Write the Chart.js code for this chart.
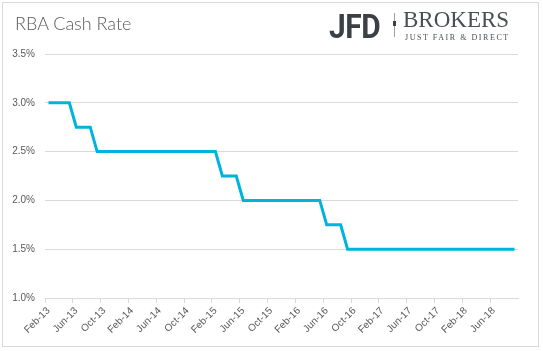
<!DOCTYPE html>
<html>
<head>
<meta charset="utf-8">
<script src="https://cdn.jsdelivr.net/npm/chart.js@4.4.1/dist/chart.umd.min.js"></script>
<style>
  html, body { margin: 0; padding: 0; background: #fff; }
  #wrap { position: relative; width: 543px; height: 351px; overflow: hidden; }
  #frame { position: absolute; left: 2px; top: 2px; width: 537px; height: 345px; border: 1px solid #d9d9d9; box-sizing: border-box; }
  #chart { position: absolute; left: 0; top: 0; }
  #title { position: absolute; left: 15px; top: 12px; font: 300 18px Lato, "Open Sans", sans-serif; color: #595959; }
  .jfd { position: absolute; left: 329px; top: 6px; font: bold 34px Roboto, sans-serif; color: #3b4047; transform: scaleX(0.88); transform-origin: left top; letter-spacing: -0.5px; }
  .sep { position: absolute; left: 394px; top: 13px; width: 1px; height: 24px; background: #9aa0a6; }
  .sep-dot { position: absolute; left: 393px; top: 21px; width: 3px; height: 5px; background: #3b4047; }
  .brokers { position: absolute; left: 403px; top: 7px; font: 23px "Liberation Serif", serif; color: #4a4f56; }
  .tag { position: absolute; left: 405px; top: 33px; font: 8px "Liberation Serif", serif; color: #4a4f56; letter-spacing: 1.55px; white-space: nowrap; }
</style>
</head>
<body>
<div id="wrap">
  <canvas id="chart" width="543" height="351"></canvas>
  <div id="frame"></div>
  <div id="title">RBA Cash Rate</div>
  <div class="jfd">JFD</div>
  <div class="sep"></div>
  <div class="sep-dot"></div>
  <div class="brokers">BROKERS</div>
  <div class="tag">JUST FAIR &amp; DIRECT</div>
</div>
<script>
// monthly, Feb-13 .. Sep-18
const months = [
    'Feb-13', 'Mar-13', 'Apr-13', 'May-13', 'Jun-13', 'Jul-13', 'Aug-13', 'Sep-13', 'Oct-13', 'Nov-13', 'Dec-13',
    'Jan-14', 'Feb-14', 'Mar-14', 'Apr-14', 'May-14', 'Jun-14', 'Jul-14', 'Aug-14', 'Sep-14', 'Oct-14', 'Nov-14', 'Dec-14',
    'Jan-15', 'Feb-15', 'Mar-15', 'Apr-15', 'May-15', 'Jun-15', 'Jul-15', 'Aug-15', 'Sep-15', 'Oct-15', 'Nov-15', 'Dec-15',
    'Jan-16', 'Feb-16', 'Mar-16', 'Apr-16', 'May-16', 'Jun-16', 'Jul-16', 'Aug-16', 'Sep-16', 'Oct-16', 'Nov-16', 'Dec-16',
    'Jan-17', 'Feb-17', 'Mar-17', 'Apr-17', 'May-17', 'Jun-17', 'Jul-17', 'Aug-17', 'Sep-17', 'Oct-17', 'Nov-17', 'Dec-17',
    'Jan-18', 'Feb-18', 'Mar-18', 'Apr-18', 'May-18', 'Jun-18', 'Jul-18', 'Aug-18', 'Sep-18'
];

const cashRate = [
    3.00, 3.00, 3.00, 3.00, 2.75, 2.75, 2.75, 2.50, 2.50, 2.50, 2.50,
    2.50, 2.50, 2.50, 2.50, 2.50, 2.50, 2.50, 2.50, 2.50, 2.50, 2.50, 2.50,
    2.50, 2.50, 2.25, 2.25, 2.25, 2.00, 2.00, 2.00, 2.00, 2.00, 2.00, 2.00,
    2.00, 2.00, 2.00, 2.00, 2.00, 1.75, 1.75, 1.75, 1.50, 1.50, 1.50, 1.50,
    1.50, 1.50, 1.50, 1.50, 1.50, 1.50, 1.50, 1.50, 1.50, 1.50, 1.50, 1.50,
    1.50, 1.50, 1.50, 1.50, 1.50, 1.50, 1.50, 1.50, 1.50
];

const yMin = 1.0;
const yMax = 3.5;
const yStep = 0.5;
const labelEvery = 4;

const gridGrey = '#d9d9d9';
const textGrey = '#595959';

Chart.defaults.font.family = '"Liberation Sans", Arial, sans-serif';
Chart.defaults.font.size = 10;
Chart.defaults.color = textGrey;

new Chart(document.getElementById('chart'), {
    type: 'line',
    data: {
        labels: months,
        datasets: [{
            data: cashRate,
            borderColor: '#00b3dd',
            borderWidth: 3,
            pointRadius: 0,
            tension: 0,
            fill: false
        }]
    },
    options: {
        responsive: false,
        animation: false,
        layout: { padding: { top: 54, right: 25, left: 0, bottom: 0 } },
        plugins: {
            legend: { display: false },
            tooltip: { enabled: false }
        },
        scales: {
            x: {
                offset: true,
                grid: {
                    offset: true,
                    drawOnChartArea: false,
                    tickLength: 5,
                    tickColor: (ctx) => ctx.index % labelEvery === 0 ? gridGrey : 'rgba(0,0,0,0)'
                },
                border: { display: true, color: gridGrey },
                ticks: {
                    autoSkip: false,
                    maxRotation: 45,
                    minRotation: 45,
                    padding: 2,
                    callback: (v, i) => i % labelEvery === 0 ? months[i] : ''
                },
                afterFit: (scale) => { scale.height = 53; }
            },
            y: {
                min: yMin,
                max: yMax,
                grid: { color: gridGrey, drawTicks: false },
                border: { display: false },
                ticks: {
                    stepSize: yStep,
                    padding: 10,
                    callback: (v) => v.toFixed(1) + '%'
                },
                afterFit: (scale) => { scale.width = 45; }
            }
        }
    }
});
</script>
</body>
</html>
